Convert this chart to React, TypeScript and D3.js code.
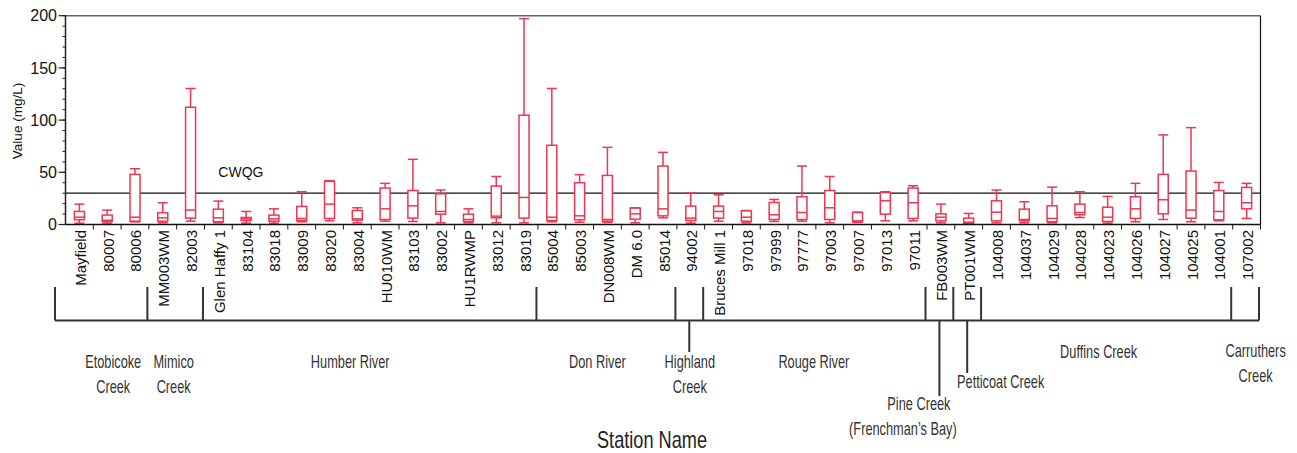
import React from 'react';
import * as d3 from 'd3';

const stations = [
  'Mayfield', '80007', '80006', 'MM003WM', '82003', 'Glen Haffy 1', '83104', '83018', '83009', '83020',
  '83004', 'HU010WM', '83103', '83002', 'HU1RWMP', '83012', '83019', '85004', '85003', 'DN008WM',
  'DM 6.0', '85014', '94002', 'Bruces Mill 1', '97018', '97999', '97777', '97003', '97007', '97013',
  '97011', 'FB003WM', 'PT001WM', '104008', '104037', '104029', '104028', '104023', '104026', '104027',
  '104025', '104001', '107002',
];

const mins = [
  1.3, 1.3, 2.5, 1.6, 3.2, 1.6, 1.3, 1.3, 2.6, 3.5,
  1.6, 3.2, 2.9, 1.6, 1.6, 1.6, 1.6, 2.6, 2.2, 1.9,
  1.6, 6.4, 1.3, 3.2, 1.6, 2.9, 3.2, 1.6, 2.0, 3.5,
  3.5, 1.6, 0.6, 1.6, 1.6, 1.6, 6.7, 1.3, 2.6, 4.8,
  2.6, 3.5, 5.8,
];
const q1s = [
  4.5, 2.9, 3.2, 3.2, 6.1, 2.6, 3.8, 3.2, 3.8, 5.8,
  4.2, 4.8, 6.1, 9.9, 2.9, 6.4, 6.1, 3.8, 4.5, 3.2,
  5.1, 8.3, 3.8, 6.1, 3.2, 4.8, 4.8, 4.8, 2.5, 9.9,
  5.8, 3.5, 1.0, 3.5, 3.5, 2.6, 9.3, 2.9, 5.8, 10.2,
  6.1, 4.5, 15,
];
const medians = [
  7, 4, 7, 6.4, 13.8, 6.4, 5.4, 5.4, 5.8, 19.5,
  5.4, 15, 17.9, 12.5, 4.8, 8, 25.9, 7, 8.3, 4.8,
  10.2, 15, 6.1, 12.5, 7, 9.3, 11.5, 16, 3.5, 22.7,
  20.8, 7, 2.2, 11.8, 4.8, 5.8, 11.5, 7, 15, 23.7,
  13.8, 12.5, 20.8,
];
const q3s = [
  12.5, 9, 48, 11.2, 112.3, 14.7, 6.7, 9, 17.3, 41.3,
  13.4, 34.9, 32.6, 29.4, 9.9, 36.8, 104.7, 75.9, 40, 47,
  15.7, 56, 17.6, 17.6, 13.1, 21.1, 26.6, 32.6, 11.5, 30.7,
  34.9, 10.2, 6.1, 22.7, 14.7, 17.9, 19.5, 16.6, 26.6, 48,
  51.2, 32.6, 35.5,
];
const maxs = [
  19.5, 13.8, 53.4, 20.8, 130.3, 22.4, 12.5, 15, 31.4, 42,
  16, 39.4, 62.4, 33, 15, 46, 197.2, 130.3, 47.7, 73.9,
  16, 69.1, 30.1, 28.5, 13.4, 24, 56, 46, 11.8, 31.4,
  37.1, 19.5, 10.6, 33, 21.8, 35.8, 31.4, 26.9, 39.4, 85.8,
  92.8, 40.3, 39.4,
];

const groupNames = [
  ['Etobicoke', 'Creek'],
  ['Mimico', 'Creek'],
  ['Humber River'],
  ['Don River'],
  ['Highland', 'Creek'],
  ['Rouge River'],
  ['Pine Creek', '(Frenchman\u2019s Bay)'],
  ['Petticoat Creek'],
  ['Duffins Creek'],
  ['Carruthers', 'Creek'],
];
const groupSizes = [3, 2, 12, 5, 1, 8, 1, 1, 9, 1];

const yTicks = [0, 50, 100, 150, 200];
const yMinorTicks = d3.range(0, 201, 10);
const guideline = 30;
const guidelineLabel = 'CWQG';
const yTitle = 'Value (mg/L)';
const xTitle = 'Station Name';

// layout for group labels: offset from group centre, first-line baseline, optional drop line end
const groupLabelLayout = [
  { dx: [6, 6], y: 368 },
  { dx: [-3, -3], y: 368 },
  { dx: [-21], y: 368 },
  { dx: [-10], y: 368 },
  { dx: [-1, -1], y: 368, drop: 352 },
  { dx: [-2], y: 368 },
  { dx: [-22, -38], y: 410, drop: 396 },
  { dx: [32], y: 388, drop: 373 },
  { dx: [-9], y: 358 },
  { dx: [9, 9], y: 357 },
];

const W = 1297;
const H = 453;
const left = 65.5;
const right = 1260.5;
const top = 15.7;
const bottom = 224.5;
const RED = '#ee3552';
const SANS = "'Liberation Sans', Arial, sans-serif";

function NarrowText(props: { x: number; y: number; size: number; sx: number; fill: string; children: string }) {
  return (
    <g transform={`translate(${props.x},${props.y}) scale(${props.sx},1)`}>
      <text x={0} y={0} textAnchor="middle" fontSize={props.size} fill={props.fill}>{props.children}</text>
    </g>
  );
}

export default function App() {
  const x = d3.scaleBand<string>().domain(stations).range([left, right]).paddingInner(0).paddingOuter(0);
  const y = d3.scaleLinear().domain([0, 200]).range([bottom, top]);
  const bw = x.bandwidth();
  const boxW = 10;
  const capW = 10;

  const boundaries = d3.range(0, stations.length + 1).map((k) => left + k * bw);
  const groupStarts: number[] = Array.from(d3.cumsum([0, ...groupSizes]));
  const bracketY = 320.5;
  const bracketTop = 287;
  const bracketLeft = left - 10.5;
  const bOff = -1.5;

  return (
    <svg width={W} height={H} style={{ position: 'absolute', left: 0, top: 0, display: 'block' }}
      fontFamily={SANS}>
      <rect x={0} y={0} width={W} height={H} fill="#fff" />
      {/* frame */}
      <line x1={left} x2={right} y1={top} y2={top} stroke="#666" strokeWidth={1.5} />
      <line x1={right} x2={right} y1={top} y2={bottom} stroke="#111" strokeWidth={1.2} />
      {/* guideline */}
      <line x1={left} x2={right} y1={y(guideline)} y2={y(guideline)} stroke="#111" strokeWidth={1.2} />
      <text x={(x(stations[5]) as number) + bw / 2} y={177} fontSize={14} fill="#111">{guidelineLabel}</text>

      {/* boxes */}
      {stations.map((s, i) => {
        const cx = (x(s) as number) + bw / 2;
        return (
          <g key={s} stroke={RED} strokeWidth={1.5} fill="none">
            <line x1={cx} x2={cx} y1={y(maxs[i])} y2={y(q3s[i])} />
            <line x1={cx} x2={cx} y1={y(q1s[i])} y2={y(mins[i])} />
            <line x1={cx - capW / 2} x2={cx + capW / 2} y1={y(maxs[i])} y2={y(maxs[i])} />
            <line x1={cx - capW / 2} x2={cx + capW / 2} y1={y(mins[i])} y2={y(mins[i])} />
            <rect x={cx - boxW / 2} y={y(q3s[i])} width={boxW} height={y(q1s[i]) - y(q3s[i])} fill="#fff" />
            <line x1={cx - boxW / 2} x2={cx + boxW / 2} y1={y(medians[i])} y2={y(medians[i])} />
          </g>
        );
      })}

      {/* y axis */}
      <line x1={left} x2={left} y1={top - 0.5} y2={bottom} stroke="#222" strokeWidth={1.5} />
      {yMinorTicks.map((t) => (
        <line key={'m' + t} x1={left - 3} x2={left} y1={y(t)} y2={y(t)} stroke="#222" strokeWidth={1} />
      ))}
      {yTicks.map((t) => (
        <g key={'t' + t}>
          <line x1={left - 7} x2={left} y1={y(t)} y2={y(t)} stroke="#222" strokeWidth={1.2} />
          <text x={left - 8.5} y={y(t)} dy="0.36em" textAnchor="end" fontSize={16} fill="#111">{t}</text>
        </g>
      ))}
      <text transform={`translate(17,121) rotate(-90)`} textAnchor="middle" dominantBaseline="central"
        fontSize={13.5} fill="#111">{yTitle}</text>

      {/* x axis */}
      <line x1={left} x2={right} y1={bottom} y2={bottom} stroke="#111" strokeWidth={1.5} />
      {boundaries.slice(1).map((b, k) => (
        <line key={'xb' + k} x1={b} x2={b} y1={bottom} y2={bottom + 5} stroke="#111" strokeWidth={1} />
      ))}
      {stations.map((s) => {
        const cx = (x(s) as number) + bw / 2 + 1;
        return (
          <text key={'l' + s} transform={`translate(${cx},230) rotate(-90)`} textAnchor="end"
            dominantBaseline="central" fontSize={15} fill="#111">{s}</text>
        );
      })}

      {/* group brackets */}
      <g stroke="#333" strokeWidth={2} fill="none">
        <line x1={bracketLeft} x2={boundaries[stations.length] + bOff} y1={bracketY} y2={bracketY} />
        {groupStarts.map((gs, k) => {
          const bx = k === 0 ? bracketLeft : boundaries[gs] + bOff;
          return <line key={'gd' + k} x1={bx} x2={bx} y1={bracketTop} y2={bracketY} />;
        })}
        {groupSizes.map((n, g) => {
          const lay = groupLabelLayout[g];
          if (!lay.drop) return null;
          const gx = (boundaries[groupStarts[g]] + boundaries[groupStarts[g] + n]) / 2 + bOff;
          return <line key={'dr' + g} x1={gx} x2={gx} y1={bracketY} y2={lay.drop} />;
        })}
      </g>
      {groupNames.map((lines, g) => {
        const lay = groupLabelLayout[g];
        const gx = (boundaries[groupStarts[g]] + boundaries[groupStarts[g] + groupSizes[g]]) / 2;
        return (
          <g key={'gn' + g}>
            {lines.map((ln, j) => (
              <NarrowText key={j} x={gx + lay.dx[j]} y={lay.y + j * 25} size={18} sx={0.71} fill="#333">{ln}</NarrowText>
            ))}
          </g>
        );
      })}
      <NarrowText x={652} y={448} size={23} sx={0.79} fill="#222">{xTitle}</NarrowText>
    </svg>
  );
}
